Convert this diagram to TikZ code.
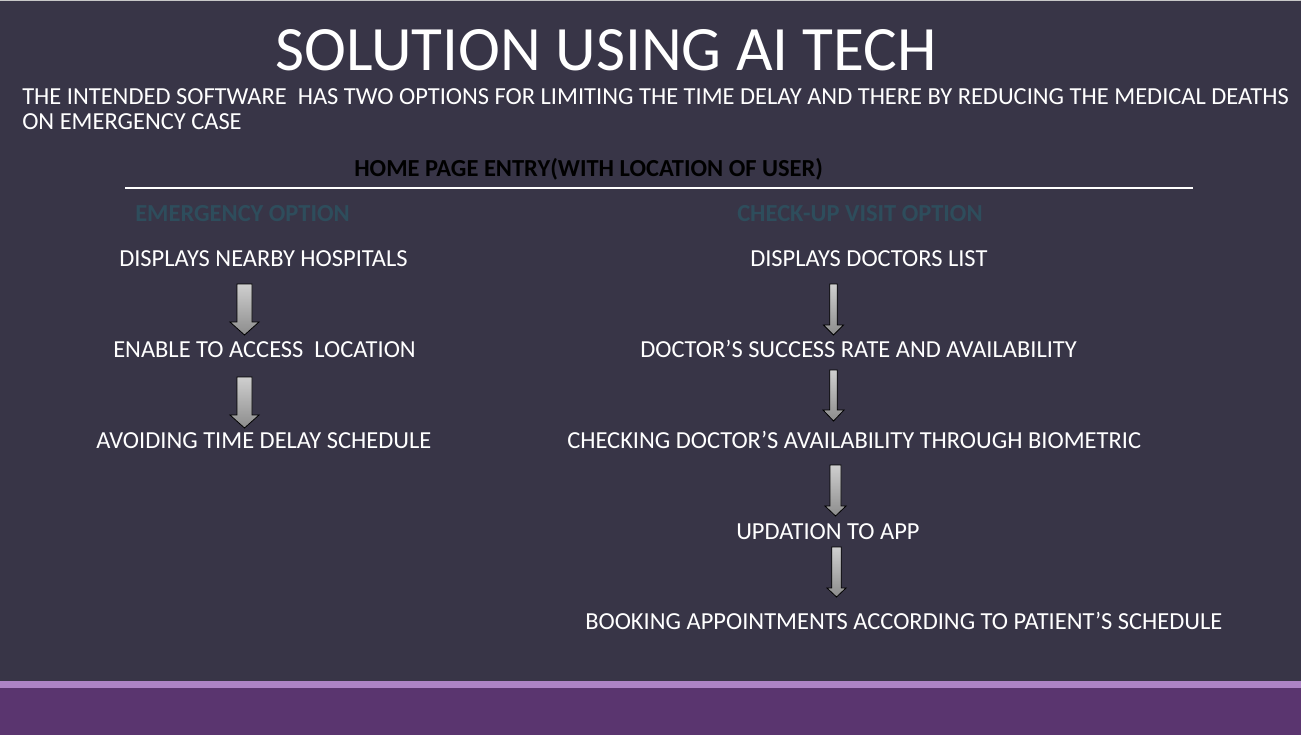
\documentclass[tikz,border=0pt]{standalone}
\usepackage{fontspec}
\setmainfont{Carlito}
\begin{document}
\begin{tikzpicture}[x=0.75pt,y=-0.75pt,
  txt/.style={inner sep=0pt,anchor=base west,text=white,font=\fontsize{18.35}{22}\selectfont},
  headtxt/.style={txt,text=black,font=\fontsize{18.35}{22}\selectfont\bfseries},
  opttxt/.style={txt,text=optcol,font=\fontsize{18.35}{22}\selectfont\bfseries},
  blockarrow/.style={draw=black,line width=0.6pt,top color=arrowtop,bottom color=arrowbot,line join=miter}]
\definecolor{bgcol}{HTML}{383547}
\definecolor{bandlight}{HTML}{AD84C6}
\definecolor{banddark}{HTML}{5A356F}
\definecolor{optcol}{HTML}{2E4D5C}
\definecolor{arrowtop}{HTML}{CFCFCF}
\definecolor{arrowbot}{HTML}{8C8C8C}
\definecolor{topedge}{HTML}{C8C8C8}

% slide background and footer bands
\useasboundingbox (0,0) rectangle (1301,735);
\fill[bgcol] (0,0) rectangle (1301,735);
\fill[topedge] (0,0) rectangle (1301,1.5);
\fill[bandlight] (0,681) rectangle (1301,688);
\fill[banddark] (0,688) rectangle (1301,735);

% title and introduction
\node[txt,font=\fontsize{47.4}{54}\selectfont] (title) at (275,70) {SOLUTION USING AI TECH};
\node[txt] (intro1) at (22,104) {THE INTENDED SOFTWARE\ \ HAS TWO OPTIONS FOR LIMITING THE TIME DELAY AND THERE BY REDUCING THE MEDICAL DEATHS};
\node[txt] (intro2) at (22,129) {ON EMERGENCY CASE};

% home page entry with separator
\node[headtxt] (home) at (354,176) {HOME PAGE ENTRY(WITH LOCATION OF USER)};
\coordinate (ruleL) at (125,188);
\coordinate (ruleR) at (1193,188);
\draw[white,line width=0.9pt] (ruleL) -- (ruleR);

% option headings
\node[opttxt] (emerg) at (135,221) {EMERGENCY OPTION};
\node[opttxt] (checkup) at (737,221) {CHECK-UP VISIT OPTION};

% emergency flow
\node[txt] (e1) at (119,266) {DISPLAYS NEARBY HOSPITALS};
\node[txt] (e2) at (113,357) {ENABLE TO ACCESS\ \ LOCATION};
\node[txt] (e3) at (96,448) {AVOIDING TIME DELAY SCHEDULE};

% check-up flow
\node[txt] (c1) at (750,266) {DISPLAYS DOCTORS LIST};
\node[txt] (c2) at (640,357) {DOCTOR’S SUCCESS RATE AND AVAILABILITY};
\node[txt] (c3) at (567,448) {CHECKING DOCTOR’S AVAILABILITY THROUGH BIOMETRIC};
\node[txt] (c4) at (736,539) {UPDATION TO APP};
\node[txt] (c5) at (585,629) {BOOKING APPOINTMENTS ACCORDING TO PATIENT’S SCHEDULE};

% downward block arrows: centre x, half shaft, half head, top, head start, tip
\newcommand\blockdown[6]{%
  \path[blockarrow] ({#1-#2},#4) -- ({#1+#2},#4) -- ({#1+#2},#5) -- ({#1+#3},#5)
    -- (#1,#6) -- ({#1-#3},#5) -- ({#1-#2},#5) -- cycle;}
\blockdown{244.5}{7.5}{14.5}{284}{322}{335}
\blockdown{244.5}{7.5}{14.5}{377}{415}{428}
\blockdown{833.5}{3.7}{10}{284}{325}{335}
\blockdown{833.5}{3.7}{10.5}{370}{410}{421}
\blockdown{835.5}{5.5}{10.5}{465}{506}{516}
\blockdown{836.5}{4.7}{9.5}{547}{588}{597}
\end{tikzpicture}
\end{document}
